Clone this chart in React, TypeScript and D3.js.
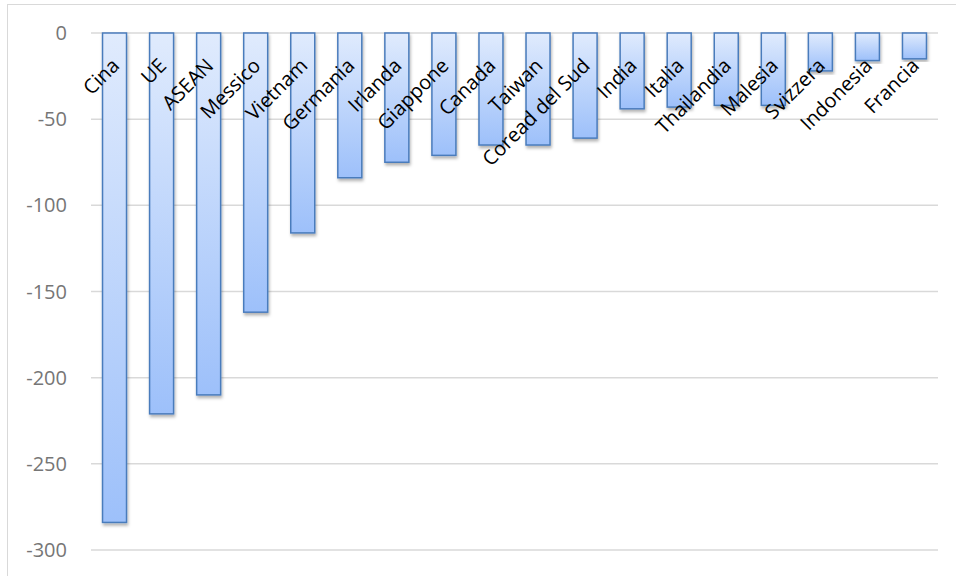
import React from "react";
import * as d3 from "d3";

const categories = ["Cina", "UE", "ASEAN", "Messico", "Vietnam", "Germania", "Irlanda", "Giappone", "Canada", "Taiwan", "Coread del Sud", "India", "Italia", "Thailandia", "Malesia", "Svizzera", "Indonesia", "Francia"];
const values = [-284, -221, -210, -162, -116, -84, -75, -71, -65, -65, -61, -44, -43, -42, -42, -22, -16, -15];
const yTicks = [0, -50, -100, -150, -200, -250, -300];

const W = 956;
const H = 576;

export default function App() {
  const x = d3.scaleBand<string>().domain(categories).range([91, 938]).paddingInner(0.49).paddingOuter(0.245);
  const y = d3.scaleLinear().domain([-300, 0]).range([550, 33]);
  const font = "'Open Sans', 'DejaVu Sans', sans-serif";
  return (
    <svg width={W} height={H} style={{ position: "absolute", left: 0, top: 0, background: "#fff" }}>
      <defs>
        <linearGradient id="barGrad" x1="0" y1="0" x2="0" y2="1">
          <stop offset="0" stopColor="#e0ebfd" />
          <stop offset="1" stopColor="#9dc0fa" />
        </linearGradient>
        <filter id="shadow" x="-20%" y="-5%" width="140%" height="115%">
          <feDropShadow dx="1" dy="2.5" stdDeviation="1.8" floodColor="#000" floodOpacity="0.3" />
        </filter>
      </defs>
      <rect x={7.5} y={4.5} width={W} height={H} fill="#fff" stroke="#d9d9d9" strokeWidth={1} />
      {yTicks.map((t) => (
        <g key={t}>
          <line x1={91} x2={938} y1={y(t)} y2={y(t)} stroke="#d9d9d9" strokeWidth={1.5} />
          <text x={67} y={y(t)} dy="0.35em" textAnchor="end" fontFamily={font} fontSize={20} fill="#767676">
            {t}
          </text>
        </g>
      ))}
      {categories.map((c, i) => (
        <rect
          key={c}
          x={x(c)!}
          y={y(0)}
          width={x.bandwidth()}
          height={y(values[i]) - y(0)}
          fill="url(#barGrad)"
          stroke="#4a7cbc"
          strokeWidth={1.5}
          filter="url(#shadow)"
        />
      ))}
      {categories.map((c) => {
        const cx = x(c)! + x.bandwidth() / 2 + 6;
        const cy = 67;
        return (
          <text
            key={"l" + c}
            transform={`translate(${cx},${cy}) rotate(-45)`}
            textAnchor="end"
            fontFamily={font}
            fontSize={20}
            fill="#000"
          >
            {c}
          </text>
        );
      })}
    </svg>
  );
}
